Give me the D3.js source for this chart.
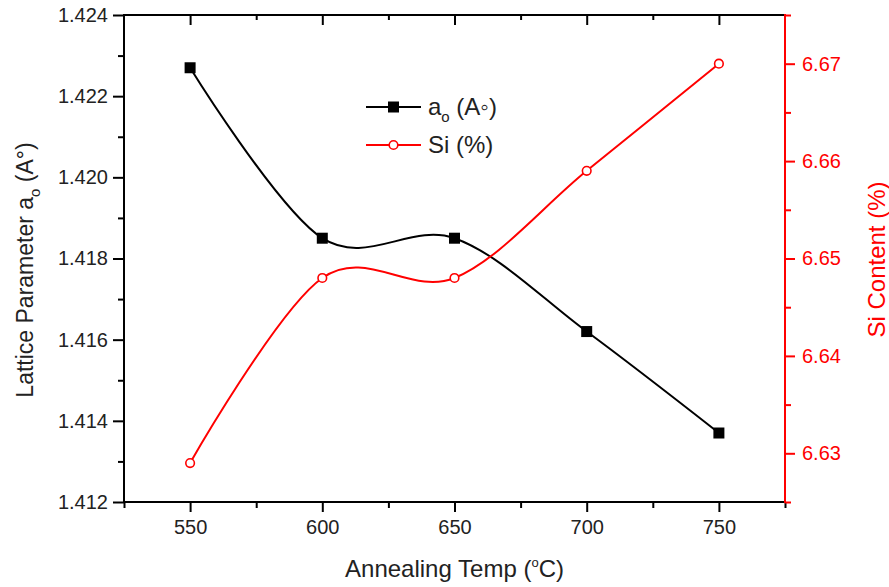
<!DOCTYPE html>
<html>
<head>
<meta charset="utf-8">
<script src="https://cdn.jsdelivr.net/npm/d3@7"></script>
<style>
  html, body { margin: 0; padding: 0; background: #fff; }
  svg { display: block; }
  text { font-family: "Liberation Sans", Arial, sans-serif; }
</style>
</head>
<body>
<svg id="chart" width="889" height="587"></svg>
<script>
// Annealing temperatures (°C)
const temps = [550, 600, 650, 700, 750];
// Lattice parameter a_o (Å)
const latticeA = [1.4227, 1.4185, 1.4185, 1.4162, 1.4137];
// Si content (%)
const siContent = [6.629, 6.648, 6.648, 6.659, 6.670];

// Axis ticks
const xMajor = [550, 600, 650, 700, 750];
const xMinor = [525, 575, 625, 675, 725, 775];
const yLeftMajor = [1.412, 1.414, 1.416, 1.418, 1.420, 1.422, 1.424];
const yLeftMinor = [1.413, 1.415, 1.417, 1.419, 1.421, 1.423];
const yRightMajor = [6.63, 6.64, 6.65, 6.66, 6.67];
const yRightMinor = [6.625, 6.635, 6.645, 6.655, 6.665, 6.675];

const W = 889, H = 587;
const m = { left: 124, top: 15, right: 104, bottom: 85 };
const pw = W - m.left - m.right, ph = H - m.top - m.bottom;

const svg = d3.select("#chart");
const g = svg.append("g").attr("transform", `translate(${m.left},${m.top})`);

const x = d3.scaleLinear().domain([525, 775]).range([0, pw]);
const yL = d3.scaleLinear().domain([1.412, 1.424]).range([ph, 0]);
const yR = d3.scaleLinear().domain([6.625, 6.675]).range([ph, 0]);

const RED = "#ff0000";
const INK = "#222";

function styleAxis(sel, color, textColor) {
  sel.select(".domain").remove();
  sel.selectAll(".tick line").attr("stroke", color).attr("stroke-width", 2);
  sel.selectAll(".tick text")
    .attr("fill", textColor)
    .style("font-size", "20px")
    .style("font-family", "'Liberation Sans', Arial, sans-serif");
}

// Bottom axis
g.append("g").attr("transform", `translate(0,${ph})`)
  .call(d3.axisBottom(x).tickValues(xMinor).tickSize(6).tickFormat(""))
  .call(s => styleAxis(s, "#000", INK));
g.append("g").attr("transform", `translate(0,${ph})`)
  .call(d3.axisBottom(x).tickValues(xMajor).tickSize(10).tickPadding(8).tickFormat(d3.format("d")))
  .call(s => styleAxis(s, "#000", INK));

// Top axis (inward ticks, no labels)
g.append("g")
  .call(d3.axisBottom(x).tickValues(xMinor.filter(d => d > 525 && d < 775)).tickSize(5).tickFormat(""))
  .call(s => styleAxis(s, "#000", INK));
g.append("g")
  .call(d3.axisBottom(x).tickValues(xMajor).tickSize(10).tickFormat(""))
  .call(s => styleAxis(s, "#000", INK));

// Left axis
g.append("g")
  .call(d3.axisLeft(yL).tickValues(yLeftMinor).tickSize(6).tickFormat(""))
  .call(s => styleAxis(s, "#000", INK));
g.append("g")
  .call(d3.axisLeft(yL).tickValues(yLeftMajor).tickSize(11).tickPadding(5).tickFormat(d3.format(".3f")))
  .call(s => styleAxis(s, "#000", INK));

// Frame lines
g.append("line").attr("x1", 0).attr("x2", pw + 1).attr("y1", 0).attr("y2", 0)
  .attr("stroke", "#000").attr("stroke-width", 2);
g.append("line").attr("x1", -1).attr("x2", pw + 1).attr("y1", ph).attr("y2", ph)
  .attr("stroke", "#000").attr("stroke-width", 2);
g.append("line").attr("x1", 0).attr("x2", 0).attr("y1", -1).attr("y2", ph + 1)
  .attr("stroke", "#000").attr("stroke-width", 2);

// Right axis (red)
g.append("g").attr("transform", `translate(${pw},0)`)
  .call(d3.axisRight(yR).tickValues(yRightMinor).tickSize(6).tickFormat(""))
  .call(s => styleAxis(s, RED, RED));
g.append("g").attr("transform", `translate(${pw},0)`)
  .call(d3.axisRight(yR).tickValues(yRightMajor).tickSize(10).tickPadding(7).tickFormat(d3.format(".2f")))
  .call(s => styleAxis(s, RED, RED));
g.append("line").attr("x1", pw).attr("x2", pw).attr("y1", -1).attr("y2", ph + 1)
  .attr("stroke", RED).attr("stroke-width", 2);

// Series curves
const lineA = d3.line().x((d, i) => x(temps[i])).y(d => yL(d)).curve(d3.curveCardinal.tension(0));
const lineSi = d3.line().x((d, i) => x(temps[i])).y(d => yR(d)).curve(d3.curveCardinal.tension(0));

g.append("path").datum(latticeA).attr("d", lineA)
  .attr("fill", "none").attr("stroke", "#000").attr("stroke-width", 2);
g.append("path").datum(siContent).attr("d", lineSi)
  .attr("fill", "none").attr("stroke", RED).attr("stroke-width", 2);

// Markers
const sq = 11;
g.selectAll("rect.ma").data(latticeA).join("rect").attr("class", "ma")
  .attr("x", (d, i) => x(temps[i]) - sq / 2).attr("y", d => yL(d) - sq / 2)
  .attr("width", sq).attr("height", sq).attr("fill", "#000");
g.selectAll("circle.ms").data(siContent).join("circle").attr("class", "ms")
  .attr("cx", (d, i) => x(temps[i])).attr("cy", d => yR(d)).attr("r", 4.3)
  .attr("fill", "#fff").attr("stroke", RED).attr("stroke-width", 1.6);

// Axis titles
svg.append("text")
  .attr("x", m.left + pw / 2 + 0).attr("y", 577)
  .attr("text-anchor", "middle").attr("fill", INK).style("font-size", "24px")
  .call(t => {
    t.append("tspan").text("Annealing Temp (");
    t.append("tspan").text("o").style("font-size", "13px").attr("dy", -10);
    t.append("tspan").text("C)").attr("dy", 10);
  });

svg.append("text")
  .attr("transform", "translate(33,270) rotate(-90)")
  .attr("text-anchor", "middle").attr("fill", INK).style("font-size", "23px")
  .call(t => {
    t.append("tspan").text("Lattice Parameter a");
    t.append("tspan").text("o").style("font-size", "15px").attr("dy", 7);
    t.append("tspan").text(" (A°)").attr("dy", -7);
  });

svg.append("text")
  .attr("transform", "translate(885,259.5) rotate(-90)")
  .attr("text-anchor", "middle").attr("fill", RED).style("font-size", "24px")
  .text("Si Content (%)");

// Legend
const legend = svg.append("g");
const legendRows = [
  { y: 107, color: "#000", kind: "square" },
  { y: 145, color: RED, kind: "circle" }
];
legendRows.forEach(r => {
  legend.append("line").attr("x1", 366).attr("x2", 421).attr("y1", r.y).attr("y2", r.y)
    .attr("stroke", r.color).attr("stroke-width", 2);
  if (r.kind === "square") {
    legend.append("rect").attr("x", 393.5 - sq / 2).attr("y", r.y - sq / 2)
      .attr("width", sq).attr("height", sq).attr("fill", "#000");
  } else {
    legend.append("circle").attr("cx", 393.5).attr("cy", r.y).attr("r", 4.3)
      .attr("fill", "#fff").attr("stroke", RED).attr("stroke-width", 1.6);
  }
});
legend.append("text").attr("x", 428).attr("y", 115).attr("fill", INK).style("font-size", "24px")
  .call(t => {
    t.append("tspan").text("a");
    t.append("tspan").text("o").style("font-size", "15px").attr("dy", 7);
    t.append("tspan").text(" (A◦)").attr("dy", -7);
  });
legend.append("text").attr("x", 428).attr("y", 153).attr("fill", INK).style("font-size", "24px")
  .text("Si (%)");
</script>
</body>
</html>
